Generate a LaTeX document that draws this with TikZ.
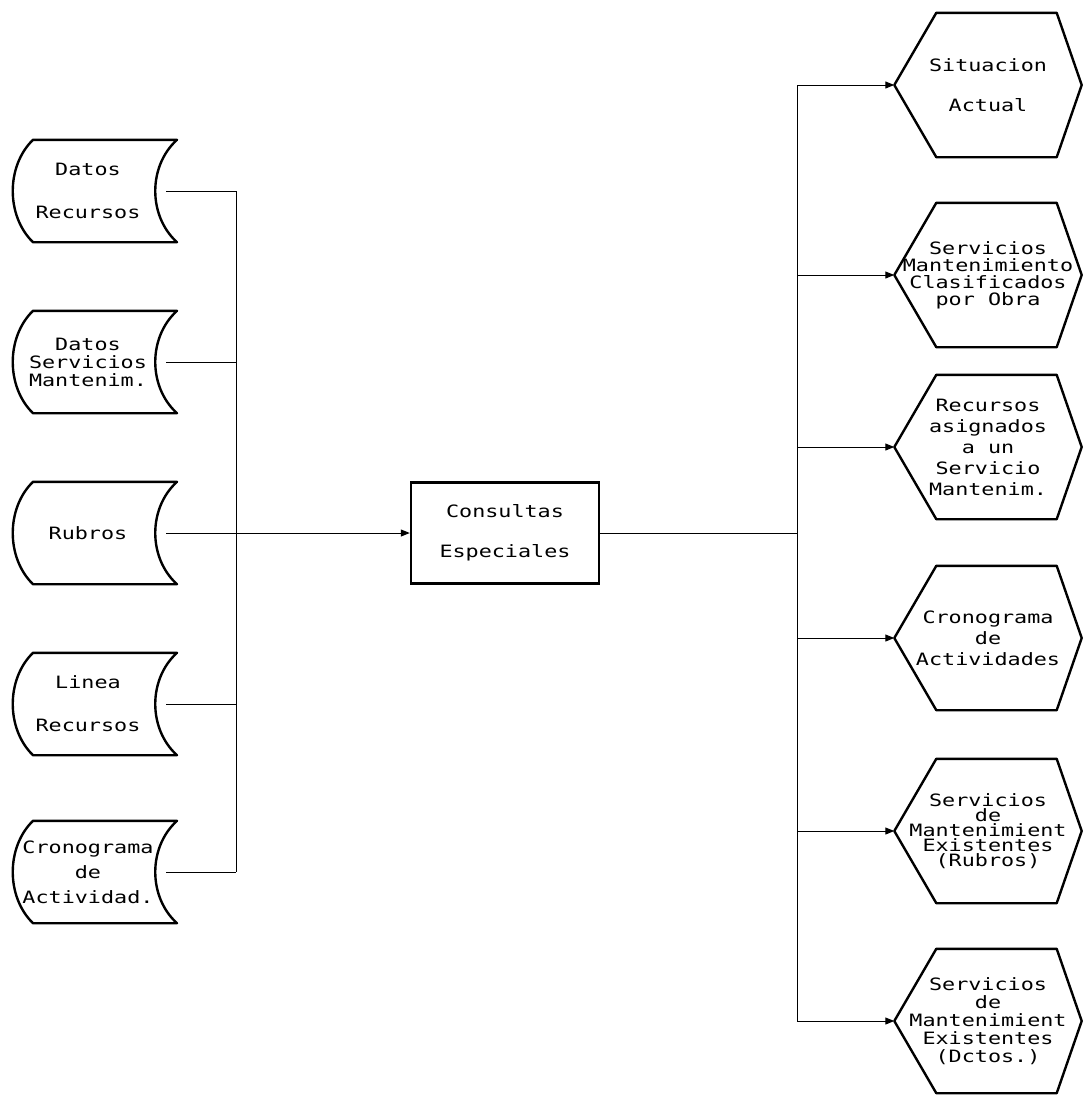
\documentclass[tikz,border=0pt]{standalone}
\usepackage{fontspec}
\usetikzlibrary{arrows.meta}
\newfontfamily\dotfont[FakeStretch=1.28]{DejaVu Sans Mono}

\tikzset{
  txt/.style={font=\dotfont\fontsize{17}{17}\selectfont, align=center, inner sep=0pt},
  store/.style={txt, minimum width=156pt, minimum height=102pt},
  hexa/.style={txt, minimum width=187pt, minimum height=144pt},
  proc/.style={txt, draw, line width=2.4pt, minimum width=188pt, minimum height=101pt},
  outline/.style={line width=2.4pt, line join=round},
  link/.style={line width=1pt},
  arr/.style={link, -{Triangle[length=9pt,width=7pt]}}
}

\begin{document}
\begin{tikzpicture}[x=1pt,y=-1pt]
\useasboundingbox (0,0) rectangle (1083,1096);

\node[store] (dr) at (88,191) {Datos\\[26pt]Recursos};
\node[store] (ds) at (88,362) {Datos\\[1pt]Servicios\\[1pt]Mantenim.};
\node[store] (ru) at (88,533) {Rubros};
\node[store] (lr) at (88,704) {Linea\\[26pt]Recursos};
\node[store] (ca) at (88,872) {Cronograma\\[8pt]de\\[8pt]Actividad.};

\node[proc] (cons) at (505,533) {Consultas\\[23pt]Especiales};

\node[hexa] (h1) at (988,85) {Situacion\\[23pt]Actual};
\node[hexa] (h2) at (988,275) {Servicios\\Mantenimiento\\Clasificados\\por Obra};
\node[hexa] (h3) at (988,447) {Recursos\\[4pt]asignados\\[4pt]a un\\[4pt]Servicio\\[4pt]Mantenim.};
\node[hexa] (h4) at (988,638) {Cronograma\\[4pt]de\\[4pt]Actividades};
\node[hexa] (h5) at (988,831) {Servicios\\[-2pt]de\\[-2pt]Mantenimient\\[-2pt]Existentes\\[-2pt](Rubros)};
\node[hexa] (h6) at (988,1021) {Servicios\\[1pt]de\\[1pt]Mantenimient\\[1pt]Existentes\\[1pt](Dctos.)};

\foreach \n in {dr,ds,ru,lr,ca}
  \draw[outline] ([xshift=-55pt]\n.north) -- ([xshift=89pt]\n.north)
    .. controls ([shift={(60,-25)}]\n.center) and ([shift={(60,25)}]\n.center) .. ([xshift=89pt]\n.south)
    -- ([xshift=-55pt]\n.south)
    .. controls ([shift={(-82,25)}]\n.center) and ([shift={(-82,-25)}]\n.center) .. cycle;

\foreach \n in {h1,h2,h3,h4,h5,h6}
  \draw[outline] (\n.west) -- ([xshift=42pt]\n.north west) -- ([xshift=-25pt]\n.north east)
    -- (\n.east) -- ([xshift=-25pt]\n.south east) -- ([xshift=42pt]\n.south west) -- cycle;

\coordinate (lbus) at (236,0);
\coordinate (rbus) at (797,0);

\draw[link] (dr.east -| lbus) -- (ca.east -| lbus);
\foreach \n in {dr,ds,lr,ca}
  \draw[link] (\n.east) -- (\n.east -| lbus);
\draw[arr] (ru.east) -- (cons.west);

\draw[link] (cons.east) -- (cons.east -| rbus);
\draw[link] (h1.west -| rbus) -- (h6.west -| rbus);
\foreach \n in {h1,h2,h3,h4,h5,h6}
  \draw[arr] (\n.west -| rbus) -- (\n.west);

\end{tikzpicture}
\end{document}
